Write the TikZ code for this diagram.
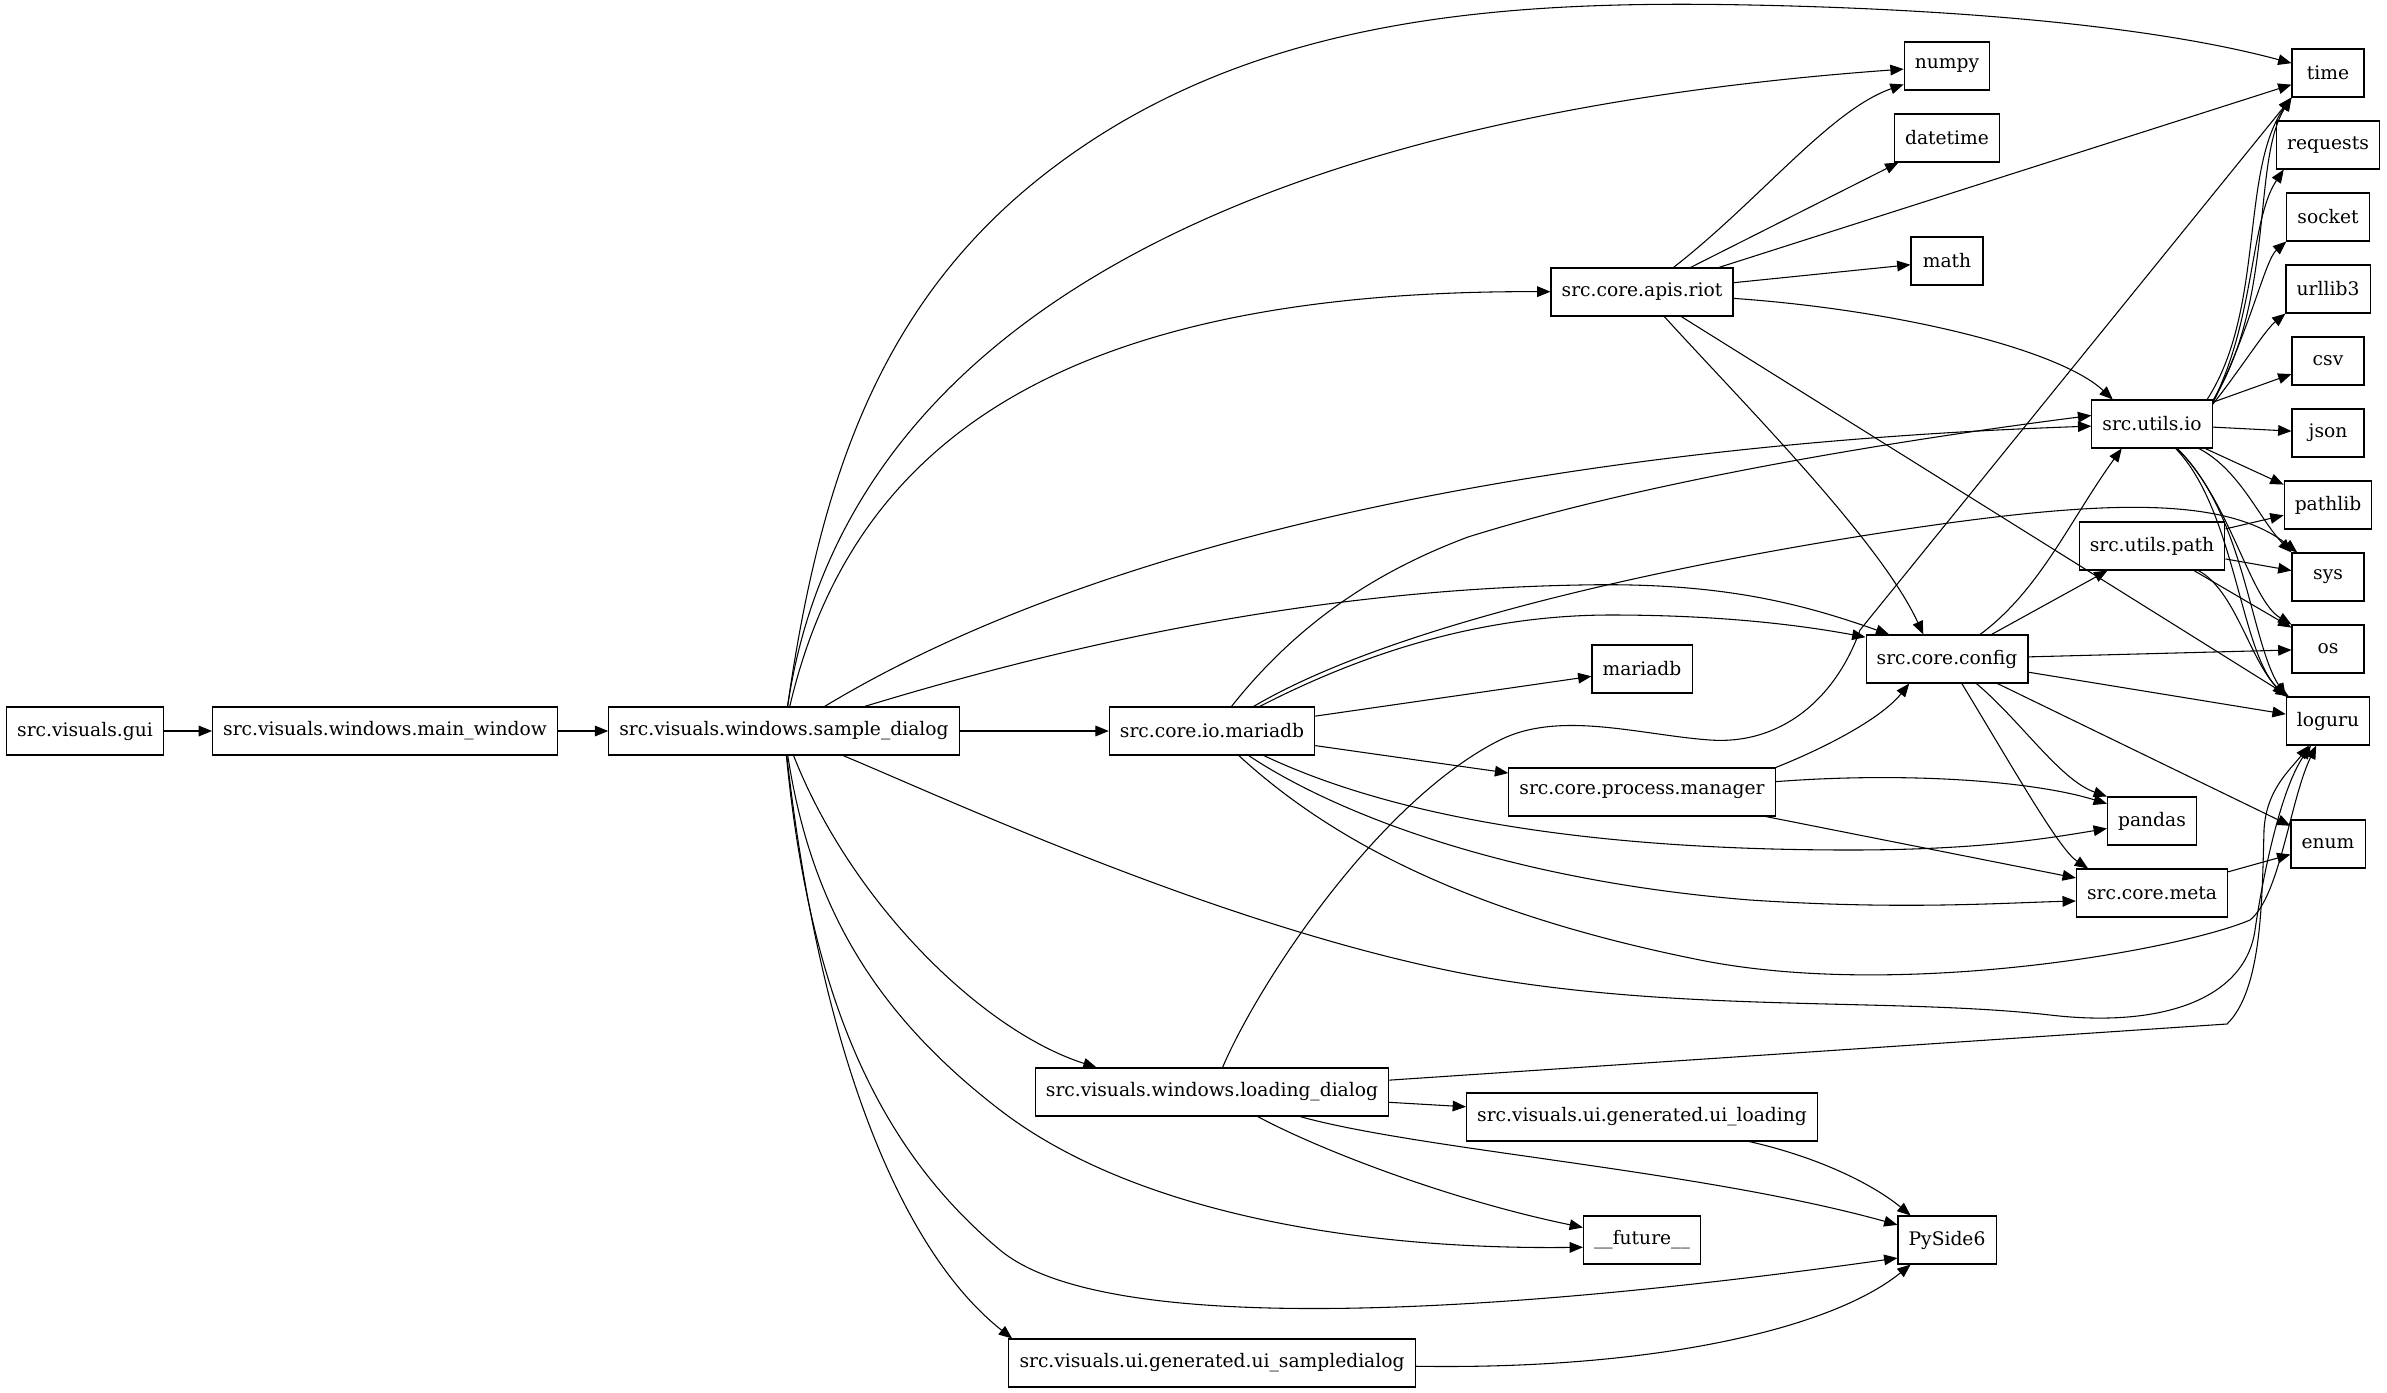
\documentclass[tikz,border=0pt]{standalone}
\usepackage{fontspec}
\setmainfont{DejaVu Serif}
\usetikzlibrary{arrows.meta}

\begin{document}
\begin{tikzpicture}[
  x=0.75pt, y=-0.75pt,
  mod/.style={draw,line width=0.8pt,font=\fontsize{14}{16}\selectfont,
    inner xsep=8pt,inner ysep=4pt,minimum height=36pt,minimum width=54pt},
  dep/.style={-{Triangle[length=10pt,width=8pt]},line width=0.8pt}
]
  \useasboundingbox (0,0) rectangle (2387,1392);
  \node[mod] (gui)       at (85,731)    {src.visuals.gui};
  \node[mod] (mainwin)   at (385,731)   {src.visuals.windows.main\_window};
  \node[mod] (sample)    at (784,731)   {src.visuals.windows.sample\_dialog};
  \node[mod] (coreio)    at (1212,731)  {src.core.io.mariadb};
  \node[mod] (loading)   at (1212,1092) {src.visuals.windows.loading\_dialog};
  \node[mod] (uisample)  at (1212,1363) {src.visuals.ui.generated.ui\_sampledialog};
  \node[mod] (riot)      at (1642,292)  {src.core.apis.riot};
  \node[mod] (dbmod)     at (1642,669)  {mariadb};
  \node[mod] (procmgr)   at (1642,792)  {src.core.process.manager};
  \node[mod] (uiload)    at (1642,1117) {src.visuals.ui.generated.ui\_loading};
  \node[mod] (future)    at (1642,1240) {\_\_future\_\_};
  \node[mod] (numpy)     at (1947,66)   {numpy};
  \node[mod] (datetime)  at (1947,138)  {datetime};
  \node[mod] (math)      at (1947,261)  {math};
  \node[mod] (config)    at (1947,659)  {src.core.config};
  \node[mod] (pyside)    at (1947,1240) {PySide6};
  \node[mod] (utilsio)   at (2152,424)  {src.utils.io};
  \node[mod] (utilspath) at (2152,546)  {src.utils.path};
  \node[mod] (pandas)    at (2152,821)  {pandas};
  \node[mod] (meta)      at (2152,893)  {src.core.meta};
  \node[mod] (time)      at (2328,73)   {time};
  \node[mod] (requests)  at (2328,145)  {requests};
  \node[mod] (socket)    at (2328,217)  {socket};
  \node[mod] (urllib)    at (2328,289)  {urllib3};
  \node[mod] (csv)       at (2328,361)  {csv};
  \node[mod] (json)      at (2328,433)  {json};
  \node[mod] (pathlib)   at (2328,505)  {pathlib};
  \node[mod] (sys)       at (2328,577)  {sys};
  \node[mod] (os)        at (2328,649)  {os};
  \node[mod] (loguru)    at (2328,721)  {loguru};
  \node[mod] (enum)      at (2328,844)  {enum};

  \draw[dep] (gui) -- (mainwin);
  \draw[dep] (mainwin) -- (sample);
  \draw[dep] (sample) -- (coreio);
  \draw[dep] (sample) .. controls (820,480) and (880,300) .. (1050,170)
    .. controls (1250,17) and (1500,0) .. (1750,5)
    .. controls (1950,9) and (2150,25) .. (time);
  \draw[dep] (sample) .. controls (840,350) and (1200,120) .. (numpy);
  \draw[dep] (sample) .. controls (850,450) and (1050,290) .. (riot);
  \draw[dep] (sample) .. controls (1100,540) and (1550,445) .. (utilsio);
  \draw[dep] (sample) .. controls (1050,650) and (1300,590) .. (1580,585)
    .. controls (1720,582) and (1800,603) .. (config.157);
  \draw[dep] (sample) .. controls (950,800) and (1250,940) .. (1500,980)
    .. controls (1700,1012) and (1900,998) .. (2050,1015)
    .. controls (2160,1028) and (2245,1000) .. (2255,930)
    .. controls (2262,881) and (2280,790) .. (loguru);
  \draw[dep] (sample) .. controls (850,900) and (980,1030) .. (loading.168);
  \draw[dep] (sample) .. controls (810,900) and (870,1010) .. (1000,1110)
    .. controls (1130,1210) and (1350,1250) .. (future.187);
  \draw[dep] (sample) .. controls (810,1000) and (880,1150) .. (1000,1250)
    .. controls (1120,1350) and (1600,1300) .. (pyside.200);
  \draw[dep] (sample) .. controls (820,1050) and (900,1250) .. (uisample.173);

  \draw[dep] (coreio) .. controls (1300,620) and (1380,570) .. (1468,537)
    .. controls (1650,480) and (1900,440) .. (utilsio.172);
  \draw[dep] (coreio) .. controls (1400,620) and (1700,560) .. (1900,530)
    .. controls (2100,500) and (2225,495) .. (sys);
  \draw[dep] (coreio) .. controls (1350,660) and (1470,615) .. (1611,615)
    .. controls (1720,615) and (1800,625) .. (config.165);
  \draw[dep] (coreio) -- (dbmod);
  \draw[dep] (coreio) -- (procmgr);
  \draw[dep] (coreio) .. controls (1400,820) and (1600,850) .. (1850,850)
    .. controls (1980,850) and (2050,838) .. (pandas);
  \draw[dep] (coreio) .. controls (1330,810) and (1500,880) .. (1750,900)
    .. controls (1900,910) and (2000,903) .. (meta.186);
  \draw[dep] (coreio) .. controls (1320,830) and (1450,910) .. (1700,960)
    .. controls (1900,1000) and (2180,950) .. (2250,920)
    .. controls (2280,896) and (2290,800) .. (loguru);

  \draw[dep] (loading) .. controls (1260,980) and (1380,800) .. (1500,740)
    .. controls (1560,710) and (1640,735) .. (1710,740)
    .. controls (1780,745) and (1835,700) .. (1860,630) -- (time.south west);
  \draw[dep] (loading) -- (2227,1024) .. controls (2262,990) and (2262,900) .. (2264,830)
    .. controls (2266,790) and (2290,770) .. (loguru);
  \draw[dep] (loading) -- (uiload);
  \draw[dep] (loading) .. controls (1320,1150) and (1450,1200) .. (future.168);
  \draw[dep] (loading) .. controls (1420,1150) and (1700,1170) .. (pyside.163);
  \draw[dep] (uiload) .. controls (1830,1160) and (1880,1190) .. (pyside.146);
  \draw[dep] (uisample) .. controls (1650,1370) and (1830,1330) .. (pyside.214);

  \draw[dep] (riot) .. controls (1760,200) and (1830,110) .. (numpy.203);
  \draw[dep] (riot) -- (datetime);
  \draw[dep] (riot) -- (math);
  \draw[dep] (riot) -- (time);
  \draw[dep] (riot) .. controls (1900,310) and (2060,350) .. (utilsio.148);
  \draw[dep] (riot) .. controls (1740,400) and (1880,540) .. (config.134);
  \draw[dep] (riot) -- (loguru);

  \draw[dep] (utilsio.24) .. controls (2265,310) and (2240,170) .. (time.south west);
  \draw[dep] (utilsio.21) .. controls (2275,300) and (2252,160) .. (time.south west);
  \draw[dep] (utilsio.20) .. controls (2255,320) and (2250,220) .. (requests.209);
  \draw[dep] (utilsio.19) .. controls (2250,330) and (2265,260) .. (socket.south west);
  \draw[dep] (utilsio.18) .. controls (2240,370) and (2265,330) .. (urllib.south west);
  \draw[dep] (utilsio) -- (csv);
  \draw[dep] (utilsio) -- (json);
  \draw[dep] (utilsio) -- (pathlib);
  \draw[dep] (utilsio) .. controls (2240,470) and (2260,520) .. (sys.north west);
  \draw[dep] (utilsio) .. controls (2230,500) and (2250,600) .. (os.north west);
  \draw[dep] (utilsio) .. controls (2235,510) and (2240,650) .. (loguru.north west);
  \draw[dep] (utilsio) .. controls (2245,515) and (2250,640) .. (loguru.north west);

  \draw[dep] (utilspath) -- (pathlib);
  \draw[dep] (utilspath) -- (sys);
  \draw[dep] (utilspath) -- (os);
  \draw[dep] (utilspath) .. controls (2235,590) and (2250,660) .. (loguru.north west);

  \draw[dep] (config) .. controls (2040,590) and (2070,520) .. (utilsio.219);
  \draw[dep] (config) -- (utilspath);
  \draw[dep] (config) -- (os);
  \draw[dep] (config) -- (loguru);
  \draw[dep] (config) -- (enum);
  \draw[dep] (config) .. controls (2020,720) and (2060,780) .. (pandas.north west);
  \draw[dep] (config) .. controls (2020,780) and (2060,850) .. (meta.159);

  \draw[dep] (procmgr.north east) .. controls (1820,750) and (1880,720) .. (config.213);
  \draw[dep] (procmgr) .. controls (1900,772) and (2030,780) .. (pandas.159);
  \draw[dep] (procmgr) -- (meta);
  \draw[dep] (meta) -- (enum);
\end{tikzpicture}
\end{document}
